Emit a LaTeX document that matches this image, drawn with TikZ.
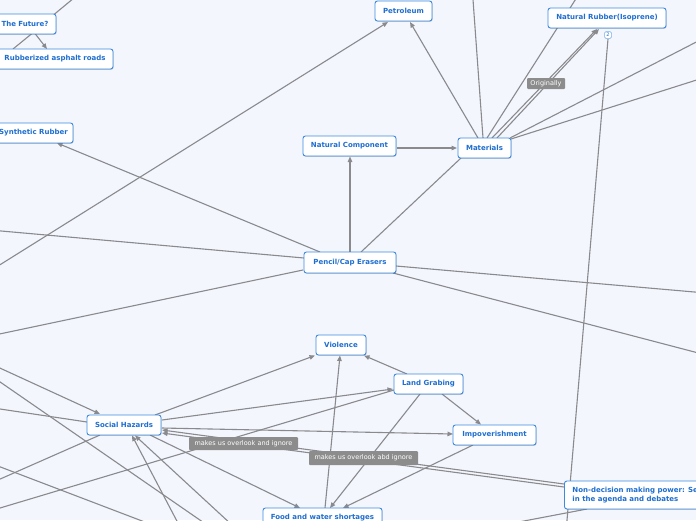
\documentclass[tikz,border=0pt]{standalone}
\usepackage{fontspec}
\setmainfont{DejaVu Sans}
\usetikzlibrary{arrows.meta,shadows}
\definecolor{bgc}{HTML}{F3F6FD}
\definecolor{nodeb}{HTML}{3D8BE0}
\definecolor{nodet}{HTML}{1E6ED0}
\definecolor{edgec}{HTML}{8A8A8E}
\definecolor{labf}{HTML}{8C8C8C}
\pgfdeclarelayer{back}
\pgfdeclarelayer{edges}
\pgfsetlayers{back,edges,main}
\tikzset{
  box/.style={draw=nodeb, fill=white, rounded corners=2.5pt, line width=0.9pt,
    text=nodet, font=\bfseries\fontsize{7}{9}\selectfont, minimum height=20pt,
    inner xsep=0pt, inner ysep=0pt, align=center,
    drop shadow={shadow xshift=0.6pt, shadow yshift=-0.8pt, fill=black, opacity=0.18}},
  lab/.style={fill=labf, text=white, rounded corners=1pt, font=\fontsize{6.5}{8}\selectfont,
    inner xsep=0pt, inner ysep=0pt, minimum height=12pt},
  badge/.style={draw=nodeb!70, fill=white, rounded corners=1.5pt, line width=0.5pt,
    text=nodet, font=\fontsize{5}{5}\selectfont, minimum width=7pt, minimum height=7pt, inner sep=0pt},
  con/.style={draw=edgec, line width=1.1pt},
  arr/.style={con, -{Triangle[length=5.5pt,width=4.5pt]}},
}
\begin{document}
\begin{tikzpicture}[x=1pt,y=-1pt]
\useasboundingbox (0,0) rectangle (696,520);
\begin{pgfonlayer}{back}
\fill[bgc] (0,0) rectangle (696,520);
\end{pgfonlayer}
\clip (0,0) rectangle (696,520);

% nodes
\node[box, minimum width=62pt] (fut) at (25,24) {The Future?};
\node[box, minimum width=116pt] (rub) at (55,59) {Rubberized asphalt roads};
\node[box, minimum width=79pt] (syn) at (33.5,133) {Synthetic Rubber};
\node[box, minimum width=57pt] (pet) at (403.5,11) {Petroleum};
\node[box, minimum width=93pt] (nc) at (349.5,146) {Natural Component};
\node[box, minimum width=53pt] (mat) at (484.5,148) {Materials};
\node[box, minimum width=118pt] (nr) at (607,18) {Natural Rubber(Isoprene)};
\node[badge] (bdg) at (608,35) {2};
\node[box, minimum width=92pt, minimum height=21pt] (pce) at (350,262.5) {Pencil/Cap Erasers};
\node[box, minimum width=50pt] (vio) at (341,345) {Violence};
\node[box, minimum width=69pt] (lg) at (428.5,384) {Land Grabing};
\node[box, minimum width=83pt] (imp) at (494.5,435) {Impoverishment};
\node[box, minimum width=74pt] (sh) at (124,425) {Social Hazards};
\node[box, minimum width=119pt] (food) at (322.5,518) {Food and water shortages};
\node[box, anchor=west, minimum height=28pt, inner xsep=8pt, align=left] (nd) at (564,495)
  {Non-decision making power: Se\\in the agenda and debates};

% free ends
\coordinate (o1) at (80,-7);
\coordinate (oA) at (-10,271);
\coordinate (oB) at (472.6,-6);
\coordinate (oC) at (579,-6);
\coordinate (oD) at (706,77);
\coordinate (oE) at (706,37);
\coordinate (oF) at (566,532);
\coordinate (oG) at (-10,230);
\coordinate (oH) at (-10,336);
\coordinate (oI) at (706,293);
\coordinate (oJ) at (706,355);
\coordinate (oK) at (-10,363.5);
\coordinate (oL) at (-10,375);
\coordinate (oM) at (210,527);
\coordinate (oN) at (-10,407.5);
\coordinate (oO) at (-10,463);
\coordinate (oP) at (150,524);
\coordinate (oQ) at (-10,483.5);
\coordinate (oR) at (-10,511);
\coordinate (oS) at (179,525);
\coordinate (oT) at (232,525);
\coordinate (oU) at (487,528);

\begin{pgfonlayer}{edges}
\clip (0,0) rectangle (696,520);
\draw[con] ([shift={(29,-9.5)}]fut.center) -- (o1);
\draw[arr] ([shift={(10,9.5)}]fut.center) -- ([shift={(-8,-10)}]rub.center);
\draw[con] ([shift={(-42,-10)}]rub.center) -- ([shift={(7,9.5)}]fut.center);
\draw[arr] ([shift={(-30,-10.5)}]pce.center) -- ([shift={(23.5,10)}]syn.center);
\draw[arr] (oA) -- ([shift={(-15.5,11)}]pet.center);
\draw[arr] ([shift={(-6.5,-10)}]mat.center) -- ([shift={(6.5,11)}]pet.center);
\draw[arr] ([shift={(47.5,2)}]nc.center) -- ([shift={(-27.5,0)}]mat.center);
\draw[arr] ([shift={(0,-10.5)}]pce.center) -- ([shift={(0.5,10.5)}]nc.center);
\draw[con] ([shift={(11,-10.5)}]pce.center) -- ([shift={(-23.5,10)}]mat.center);
\draw[con] ([shift={(-1.5,-10)}]mat.center) -- (oB);
\draw[con] ([shift={(2.5,-10)}]mat.center) -- (oC);
\draw[arr] ([shift={(7.5,-10)}]mat.center) -- ([shift={(-10,11)}]nr.center);
\draw[arr] ([shift={(12.5,-10)}]mat.center) -- ([shift={(-8,11)}]nr.center);
\draw[con] ([shift={(26.5,-9)}]mat.center) -- (oD);
\draw[con] ([shift={(25.5,-10)}]mat.center) -- (oE);
\draw[con] ([shift={(0,4)}]bdg.center) -- (oF);
\draw[con] ([shift={(-46,-4.5)}]pce.center) -- (oG);
\draw[con] ([shift={(-47,7.5)}]pce.center) -- (oH);
\draw[con] ([shift={(46,3.5)}]pce.center) -- (oI);
\draw[con] ([shift={(43,10.5)}]pce.center) -- (oJ);
\draw[arr] (oK) -- ([shift={(-24,-11)}]sh.center);
\draw[con] (oL) -- (oM);
\draw[con] (oN) -- ([shift={(-37,-3)}]sh.center);
\draw[con] (oO) -- (oP);
\draw[con] (oQ) -- ([shift={(-24,10)}]sh.center);
\draw[con] (oR) -- ([shift={(-34.5,6)}]lg.center);
\draw[arr] (oS) -- ([shift={(8,10.5)}]sh.center);
\draw[arr] (oT) -- ([shift={(11,10.5)}]sh.center);
\draw[arr] ([shift={(31,-10)}]sh.center) -- ([shift={(-26,10.5)}]vio.center);
\draw[arr] ([shift={(38,-5)}]sh.center) -- ([shift={(-35.5,5)}]lg.center);
\draw[arr] ([shift={(38,3)}]sh.center) -- ([shift={(-41.5,-1)}]imp.center);
\draw[arr] ([shift={(0,-11)}]nd.west) -- ([shift={(38,5)}]sh.center);
\draw[arr] ([shift={(0,-8)}]nd.west) -- ([shift={(38,8)}]sh.center);
\draw[arr] ([shift={(26,10)}]sh.center) -- ([shift={(-22.5,-10)}]food.center);
\draw[arr] ([shift={(2.5,-10)}]food.center) -- ([shift={(-1,10.5)}]vio.center);
\draw[arr] ([shift={(-8.5,10)}]lg.center) -- ([shift={(7.5,-10)}]food.center);
\draw[arr] ([shift={(-21.5,10)}]imp.center) -- ([shift={(20.5,-10)}]food.center);
\draw[arr] ([shift={(-21.5,-10)}]lg.center) -- ([shift={(23,10.5)}]vio.center);
\draw[arr] ([shift={(13.5,10)}]lg.center) -- ([shift={(-13.5,-10.5)}]imp.center);
\draw[con] ([shift={(23,14)}]nd.west) -- (oU);
\end{pgfonlayer}

% labels on connectors
\node[lab, minimum width=38pt, minimum height=11pt] (l0) at (546,83.5) {Originally};
\node[lab, minimum width=109pt, minimum height=13pt] (l1) at (243.5,443.5) {makes us overlook and ignore};
\node[lab, minimum width=109pt, minimum height=14pt] (l2) at (363.5,458) {makes us overlook abd ignore};
\end{tikzpicture}
\end{document}
